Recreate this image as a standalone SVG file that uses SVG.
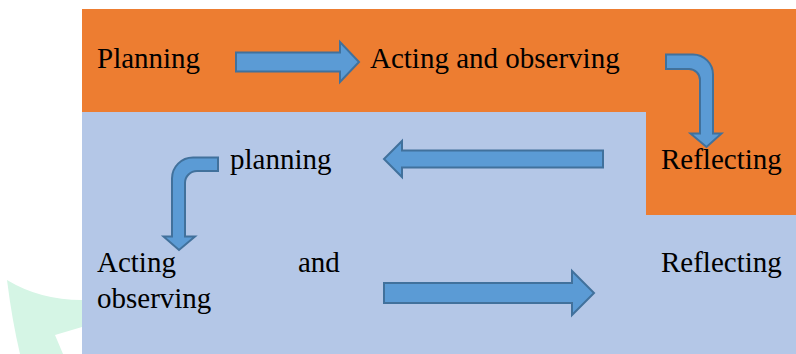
<svg xmlns="http://www.w3.org/2000/svg" width="796" height="354" viewBox="0 0 796 354">
<style>
.lbl{font-family:"Liberation Serif","Times New Roman",serif;font-size:29px;fill:#000}
.arr{fill:#5B9BD5;stroke:#41719C;stroke-width:2;stroke-linejoin:miter}
</style>
<rect x="0" y="0" width="796" height="354" fill="#ffffff"/>
<path d="M7,280 Q40,300 82,300 V327 L55,335 L63,354 H20 Q12,320 7,280 Z" fill="#D5F5E5"/>
<rect x="82" y="9" width="714" height="103" fill="#ED7D31"/>
<rect x="82" y="112" width="714" height="242" fill="#B4C7E7"/>
<rect x="646" y="112" width="150" height="103" fill="#ED7D31"/>
<g id="connectors">
<path class="arr" d="M236,52.5 H340 V42 L359,62 L340,82 V71.5 H236 Z"/>
<path class="arr" d="M666,54.5 H693 A20,20 0 0 1 713,74.5 V133.5 H721.5 L706.5,147 L690.5,133.5 H700 V80 A11,11 0 0 0 689,69 H666 Z"/>
<path class="arr" d="M603,150.5 H402 V141 L384,159 L402,177 V167.5 H603 Z"/>
<path class="arr" d="M218,157.5 H193 A21,21 0 0 0 172,178.5 V236.5 H163.5 L179,250 L195,236.5 H185 V183 A12,12 0 0 1 197,171 H218 Z"/>
<path class="arr" d="M384,283 H572 V271 L594,293 L572,315 V303 H384 Z"/>
</g>
<g id="n1"><text class="lbl" x="97" y="68">Planning</text></g>
<g id="n2"><text class="lbl" x="370" y="68">Acting and observing</text></g>
<g id="n3"><text class="lbl" x="661" y="169">Reflecting</text></g>
<g id="n4"><text class="lbl" x="230" y="169">planning</text></g>
<g id="n5"><text class="lbl" x="97" y="272">Acting</text><text class="lbl" x="298" y="272">and</text><text class="lbl" x="97" y="308">observing</text></g>
<g id="n6"><text class="lbl" x="661" y="272">Reflecting</text></g>
</svg>
